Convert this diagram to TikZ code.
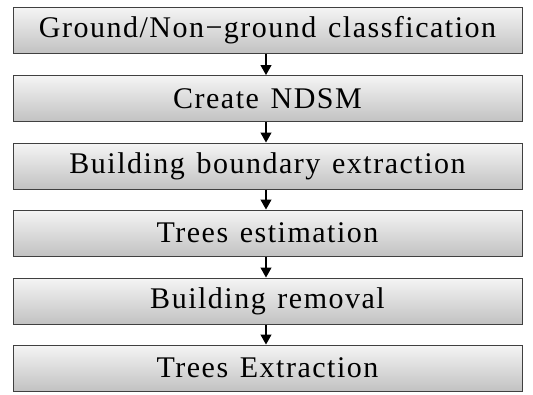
\documentclass[tikz,border=0pt]{standalone}
\usepackage{fontspec}
\setmainfont{Liberation Serif}[LetterSpace=5,WordSpace=1.3]
\usetikzlibrary{arrows.meta}
\definecolor{boxtop}{gray}{0.96}
\definecolor{boxbot}{gray}{0.76}
\begin{document}
\begin{tikzpicture}[x=1pt,y=-1pt,
  stagebox/.style={draw=black!75, line width=1pt, top color=boxtop, bottom color=boxbot,
    minimum width=509pt, minimum height=46pt, inner sep=0pt,
    font=\fontsize{30}{30}\selectfont},
  flow/.style={-{Triangle[length=10pt,width=11pt]}, line width=1.2pt}]
\useasboundingbox (0,0) rectangle (533,394);
\node[stagebox] (s1) at (267.5,30)  {Ground/Non−ground classfication};
\node[stagebox] (s2) at (267.5,98.5) {Create NDSM};
\node[stagebox] (s3) at (267.5,166) {Building boundary extraction};
\node[stagebox] (s4) at (267.5,233) {Trees estimation};
\node[stagebox] (s5) at (267.5,301) {Building removal};
\node[stagebox] (s6) at (267.5,368) {Trees Extraction};
\foreach \a/\b in {s1/s2,s2/s3,s3/s4,s4/s5,s5/s6}
  \draw[flow] (\a.south -| 266,0) -- (\b.north -| 266,0);
\end{tikzpicture}
\end{document}
